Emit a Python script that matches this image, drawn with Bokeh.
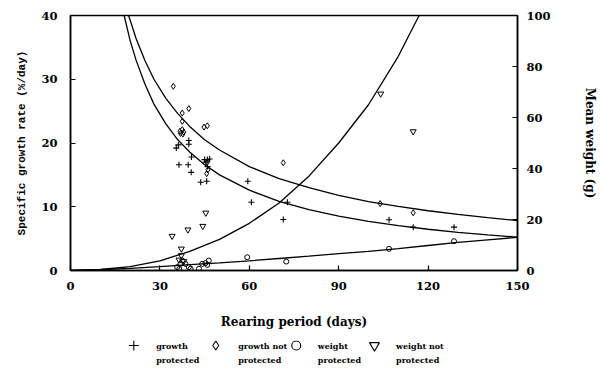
from bokeh.plotting import figure
from bokeh.models import Range1d, LinearAxis, FixedTicker
from bokeh.layouts import column
from bokeh.embed import file_html
from bokeh.resources import INLINE
from bokeh.core.properties import value

# ---------------- data ----------------
x_ticks = [0, 30, 60, 90, 120, 150]
g_ticks = [0, 10, 20, 30, 40]
w_ticks = [0, 20, 40, 60, 80, 100]

# growth protected (+), specific growth rate %/day
gp_day = [35.5, 36.2, 39.7, 39.7, 40.6, 36.4, 39.5, 40.5, 43.7, 45.7, 45.0, 45.9,
          46.7, 45.4, 46.0, 59.5, 60.7, 72.8, 71.4, 106.9, 115.0, 128.7]
gp_rate = [19.2, 19.7, 20.4, 19.8, 17.8, 16.6, 16.6, 15.4, 13.85, 14.0, 17.4, 17.4,
           17.5, 17.0, 16.3, 14.0, 10.7, 10.7, 8.0, 7.95, 6.8, 6.8]

# growth not protected (diamond)
gnp_day = [34.5, 37.5, 39.7, 37.5, 36.7, 37.5, 38.0, 36.9, 37.7, 44.8, 45.9,
           45.9, 46.1, 45.7, 71.4, 103.9, 115.0]
gnp_rate = [28.9, 24.7, 25.4, 23.4, 21.85, 22.1, 21.7, 21.5, 21.4, 22.5, 22.7,
            17.0, 15.8, 15.2, 16.9, 10.5, 9.05]

# weight protected (circle), mean weight g
wp_day = [35.8, 36.9, 37.5, 38.6, 39.7, 40.3, 36.5, 43.1, 44.2, 45.3, 46.4, 45.9,
          59.3, 72.4, 106.9, 128.7]
wp_weight = [1.3, 2.6, 3.9, 2.6, 1.3, 0.7, 0.6, 0.7, 2.6, 2.9, 3.9, 2.2,
             5.2, 3.5, 8.5, 11.5]

# weight not protected (inverted triangle)
wnp_day = [34.1, 39.4, 44.4, 45.4, 37.2, 37.2, 36.4, 38.0, 104.1, 115.0]
wnp_weight = [13.5, 16.0, 17.4, 22.6, 8.5, 5.9, 4.2, 3.6, 69.3, 54.5]

# fitted curves
fit_gnp_day = [19.5, 20, 22, 25, 28, 32, 36, 40, 45, 50, 60, 70, 80, 90, 100, 110, 120, 130, 140, 150]
fit_gnp_rate = [40.0, 39.3, 36.4, 32.9, 30.0, 27.0, 24.6, 22.6, 20.5, 18.9, 16.3, 14.4, 13.0,
                11.8, 10.8, 10.05, 9.37, 8.79, 8.28, 7.84]
fit_gp_day = [18, 20, 22, 25, 28, 32, 36, 40, 45, 50, 60, 70, 80, 90, 100, 110, 120, 130, 140, 150]
fit_gp_rate = [40.0, 36.1, 33.0, 29.2, 26.1, 23.0, 20.5, 18.6, 16.6, 15.0, 12.6, 10.85, 9.55,
               8.52, 7.70, 7.03, 6.47, 5.99, 5.58, 5.22]
fit_wnp_day = [0, 10, 20, 30, 40, 50, 60, 70, 80, 90, 100, 110, 115, 117]
fit_wnp_weight = [0, 0.4, 1.5, 3.8, 7.5, 12.2, 18.5, 26.5, 37, 50, 65, 84, 95.5, 100]
fit_wp_day = [0, 10, 20, 30, 40, 50, 60, 70, 80, 90, 100, 110, 120, 130, 140, 150]
fit_wp_weight = [0, 0.3, 0.8, 1.5, 2.3, 3.0, 3.8, 4.7, 5.6, 6.6, 7.5, 8.6, 9.8, 11.0, 12.0, 13.0]

legend_line1 = ["growth", "growth not", "weight", "weight not"]
legend_line2 = ["protected", "protected", "protected", "protected"]
legend_markers = ["cross", "diamond", "circle", "inverted_triangle"]

# ---------------- main figure ----------------
SERIF = "DejaVu Serif"
MONO = "Liberation Mono"
W = 600

p = figure(width=W, height=340, x_range=Range1d(0, 150), y_range=Range1d(0, 40),
           toolbar_location=None, output_backend="svg",
           min_border_left=70, min_border_right=83, min_border_top=15, min_border_bottom=70,
           background_fill_color="white", border_fill_color="white")
p.extra_y_ranges = {"w": Range1d(0, 100)}
p.grid.visible = False
p.outline_line_color = "black"
p.outline_line_width = 1.5
p.outline_line_alpha = 1.0

right = LinearAxis(y_range_name="w")
p.add_layout(right, "right")

for ax in [p.xaxis[0], p.yaxis[0], right]:
    ax.major_tick_in = 5
    ax.major_tick_out = 0
    ax.minor_tick_line_color = None
    ax.axis_line_width = 1.5
    ax.major_tick_line_width = 1.2
    ax.major_label_text_font = SERIF
    ax.major_label_text_font_style = "bold"
    ax.major_label_text_font_size = "11.5px"
    ax.major_label_text_color = "black"
    ax.axis_label_text_color = "black"
    ax.axis_label_text_font_style = "bold"

p.xaxis[0].ticker = FixedTicker(ticks=x_ticks)
p.yaxis[0].ticker = FixedTicker(ticks=g_ticks)
right.ticker = FixedTicker(ticks=w_ticks)

p.xaxis[0].axis_label = "Rearing period (days)"
p.xaxis[0].axis_label_text_font = SERIF
p.xaxis[0].axis_label_text_font_size = "12px"
p.xaxis[0].major_label_standoff = 11
p.xaxis[0].axis_label_standoff = 22

p.yaxis[0].axis_label = "Specific growth rate (%/day)"
p.yaxis[0].axis_label_text_font = MONO
p.yaxis[0].axis_label_text_font_size = "11px"
p.yaxis[0].major_label_standoff = 13
p.yaxis[0].axis_label_standoff = 10

right.axis_label = "Mean weight (g)"
right.axis_label_text_font = SERIF
right.axis_label_text_font_size = "12px"
right.major_label_standoff = 9
right.axis_label_standoff = 29

# curves
lw = 1.3
p.line(fit_gnp_day, fit_gnp_rate, line_color="black", line_width=lw)
p.line(fit_gp_day, fit_gp_rate, line_color="black", line_width=lw)
p.line(fit_wnp_day, fit_wnp_weight, line_color="black", line_width=lw, y_range_name="w")
p.line(fit_wp_day, fit_wp_weight, line_color="black", line_width=lw, y_range_name="w")

# points
p.scatter(gp_day, gp_rate, marker="cross", size=6, line_color="black", line_width=1.1)
p.scatter(gnp_day, gnp_rate, marker="diamond", size=6, line_color="black",
          fill_color=None, line_width=1)
p.scatter(wp_day, wp_weight, marker="circle", size=5, line_color="black",
          fill_color=None, line_width=1, y_range_name="w")
p.scatter(wnp_day, wnp_weight, marker="inverted_triangle", size=6, line_color="black",
          fill_color=None, line_width=1, y_range_name="w")

# ---------------- legend strip (pixel space) ----------------
LH = 34
leg = figure(width=W, height=LH, x_range=Range1d(0, W), y_range=Range1d(LH, 0),
             toolbar_location=None, output_backend="svg",
             x_axis_location=None, y_axis_location=None,
             min_border=0, outline_line_color=None,
             background_fill_color="white", border_fill_color="white")
leg.grid.visible = False

marker_x = [85, 195, 303, 408]
text_x = [115, 225, 332, 437]
row1, row2 = 5, 19
sizes = [10, 9, 9, 10]
for i in range(4):
    leg.scatter([marker_x[i]], [row1], marker=legend_markers[i], size=sizes[i],
                line_color="black", fill_color=None, line_width=1.1)
leg.text(text_x, [row1] * 4, text=legend_line1, text_font=value(SERIF), text_font_style="bold",
         text_font_size="8px", text_baseline="middle", text_align="left", text_color="black")
leg.text(text_x, [row2] * 4, text=legend_line2, text_font=value(SERIF), text_font_style="bold",
         text_font_size="8px", text_baseline="middle", text_align="left", text_color="black")

layout = column(p, leg, spacing=0)
open("out.html", "w").write(file_html(layout, INLINE))
